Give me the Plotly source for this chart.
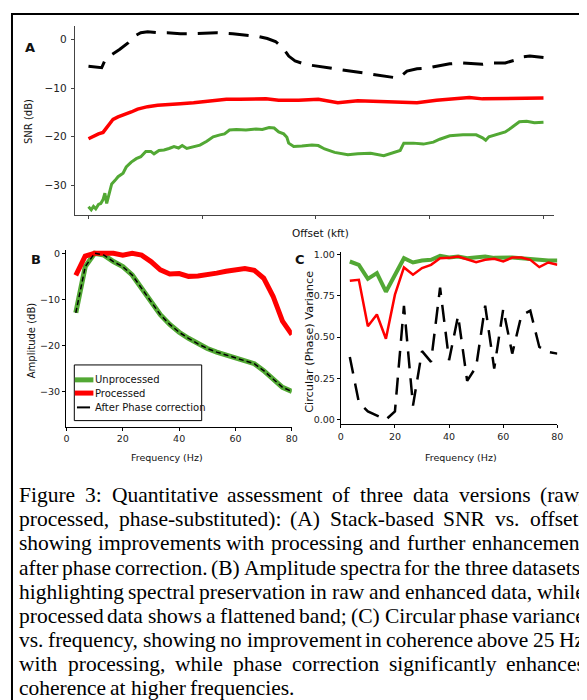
import plotly.graph_objects as go

# The page body has an 8px margin, so the figure is 579x692 and page pixel (x, y)
# maps to figure pixel (x - 8, y - 8).
PAGE_OFF = 8
W, H = 579, 692


def px(x):
    return (x - PAGE_OFF) / W


def py(y):
    return 1 - (y - PAGE_OFF) / H


# ---------------- Panel A: SNR vs offset ----------------
snr_proc_x = [0, 1.1, 2.2, 3.2, 4.3, 5.4, 6.5, 7.9, 9.4, 10.8, 13, 15.2, 17.3, 20.2, 23.1, 25.3,
              27.4, 30.3, 33.2, 36.1, 39, 41.8, 44, 46.2, 50.5, 54.8, 59.2, 63.5, 67.8, 72.2,
              76.5, 80.8, 83.7, 86.6, 91.6, 95, 100]
snr_proc = [-20.4, -19.8, -19.4, -19.1, -17.7, -16.4, -15.9, -15.5, -14.9, -14.3, -13.8, -13.5,
            -13.3, -13.2, -13.0, -12.8, -12.5, -12.3, -12.3, -12.3, -12.2, -12.5, -12.5, -12.5,
            -12.3, -13.0, -12.6, -12.7, -12.8, -13.0, -12.5, -12.1, -11.9, -12.2, -12.1, -12.2, -12.0]

snr_raw_x = [0, 0.6, 1.1, 1.6, 2.2, 2.7, 3.2, 3.6, 4.0, 4.5, 5.1, 5.8, 6.5, 7.6, 8.3, 9.4, 10.5,
             11.5, 12.6, 13.7, 14.4, 15.5, 16.6, 17.7, 18.8, 19.8, 20.6, 21.6, 23.1, 24.5, 26.0,
             27.4, 28.9, 29.9, 31.0, 32.5, 34.6, 36.8, 38.2, 39.7, 40.8, 41.8, 42.9, 43.6, 44.0,
             45.1, 46.9, 49.1, 50.5, 51.9, 54.1, 57.0, 59.2, 62.0, 64.9, 67.1, 68.5, 69.3, 71.4,
             73.6, 75.8, 77.2, 79.4, 82.3, 85.2, 86.6, 87.3, 88.0, 90.2, 91.6, 93.0, 94.7, 96.3,
             98.0, 100]
snr_raw = [-34.4, -35.0, -34.3, -34.8, -33.9, -33.7, -32.9, -31.6, -33.7, -31.7, -29.7, -29.0,
           -28.2, -27.5, -26.2, -25.2, -24.5, -24.1, -23.0, -23.0, -23.5, -22.8, -22.7, -22.4,
           -22.0, -22.3, -21.8, -22.4, -22.0, -21.7, -20.9, -20.0, -19.6, -19.4, -18.6, -18.5,
           -18.6, -18.4, -18.5, -18.1, -18.2, -19.0, -19.4, -20.1, -21.3, -22.0, -21.9, -21.7,
           -21.8, -22.5, -23.2, -23.7, -23.5, -23.4, -23.9, -23.2, -22.8, -21.3, -21.3, -21.5,
           -21.1, -20.5, -19.8, -19.6, -19.6, -20.2, -20.7, -20.0, -19.4, -19.0, -18.1, -16.9,
           -16.8, -17.1, -17.0]

snr_phase_x = [0, 1.4, 2.9, 3.6, 5.1, 6.9, 8.7, 10.1, 11.5, 13, 15.2, 17.3, 20.2, 23.1, 26, 28.1,
               31.7, 34.6, 37.5, 39.3, 41.1, 42.2, 43.1, 44.0, 45.4, 47.6, 50.5, 53.3, 57.7, 61.3,
               64.3, 67.1, 68.5, 70, 72.2, 74.3, 76.5, 79.4, 82.3, 85.2, 86.6, 88.7, 91.6, 93.5,
               95, 97, 100]
snr_phase = [-5.5, -5.7, -5.8, -4.3, -3.1, -2.0, -0.7, 0.7, 1.4, 1.6, 1.4, 1.4, 1.2, 1.2, 1.3, 1.4,
             1.2, 0.9, 0.6, 0.2, -0.4, -1.3, -2.2, -3.4, -4.4, -5.1, -5.5, -5.9, -6.5, -7.0,
             -7.5, -7.8, -7.7, -6.5, -6.0, -5.9, -5.5, -5.0, -4.8, -4.9, -5.1, -4.8, -4.8, -4.3,
             -3.6, -3.4, -3.7]

offset_ticks = [0, 25, 50, 75, 100]
snr_ticks = [0, -10, -20, -30]

# ---------------- Panel B: amplitude spectra ----------------
freq = [3.33, 6.67, 10, 13.33, 16.67, 20, 23.33, 26.67, 30, 33.33, 36.67, 40, 43.33, 46.67,
        50, 53.33, 56.67, 60, 63.33, 66.67, 70, 73.33, 76.67, 80]
amp_raw = [-12.9, -2.9, 0.0, -0.4, -1.8, -2.9, -4.7, -7.5, -10.4, -13.3, -15.4, -17.1, -18.4,
           -19.6, -20.6, -21.4, -22.0, -22.6, -23.2, -23.9, -25.4, -27.2, -29.0, -29.9]
amp_proc = [-4.8, -0.6, 0.0, 0.0, 0.0, -0.4, 0.0, -0.4, -1.8, -3.6, -4.5, -4.4, -5.0, -4.9,
            -4.7, -4.3, -3.9, -3.6, -3.3, -3.7, -5.4, -9.3, -14.7, -17.6]
amp_phase = [-12.9, -2.9, 0.0, -0.4, -1.8, -2.9, -4.7, -7.5, -10.4, -13.3, -15.4, -17.1, -18.4,
             -19.6, -20.6, -21.4, -22.0, -22.6, -23.2, -23.9, -25.4, -27.2, -29.0, -29.9]
freq_ticks = [0, 20, 40, 60, 80]
amp_ticks = [0, -10, -20, -30]

# ---------------- Panel C: circular phase variance ----------------
var_raw = [0.958, 0.938, 0.853, 0.888, 0.775, 0.871, 0.978, 0.952, 0.964, 0.968, 0.992, 0.982,
           0.988, 0.978, 0.982, 0.988, 0.980, 0.982, 0.982, 0.978, 0.976, 0.968, 0.964, 0.964]
var_proc = [0.841, 0.847, 0.566, 0.637, 0.490, 0.757, 0.922, 0.878, 0.918, 0.938, 0.978, 0.980,
            0.988, 0.972, 0.954, 0.968, 0.974, 0.958, 0.982, 0.982, 0.968, 0.924, 0.952, 0.938]
var_phase = [0.38, 0.105, 0.05, 0.025, 0.0, 0.05, 0.69, 0.085, 0.415, 0.35, 0.80, 0.36, 0.63,
             0.235, 0.32, 0.69, 0.31, 0.67, 0.40, 0.63, 0.66, 0.44, 0.41, 0.40]
var_ticks = [0, 0.25, 0.5, 0.75, 1.0]

series_names = ["Unprocessed", "Processed", "After Phase correction"]

caption_lines = [
    "Figure 3: Quantitative assessment of three data versions (raw,",
    "processed, phase-substituted): (A) Stack-based SNR vs. offset,",
    "showing improvements with processing and further enhancement",
    "after phase correction. (B) Amplitude spectra for the three datasets,",
    "highlighting spectral preservation in raw and enhanced data, while",
    "processed data shows a flattened band; (C) Circular phase variance",
    "vs. frequency, showing no improvement in coherence above 25 Hz",
    "with processing, while phase correction significantly enhances",
    "coherence at higher frequencies.",
]

GREEN = "#52a834"
RED = "#ff0000"
BLACK = "#000000"
SANS = "DejaVu Sans"
SERIF = "Liberation Serif"

fig = go.Figure()

# Panel A
fig.add_trace(go.Scatter(x=snr_raw_x, y=snr_raw, mode="lines", name=series_names[0],
                         line=dict(color=GREEN, width=3), xaxis="x", yaxis="y", showlegend=False))
fig.add_trace(go.Scatter(x=snr_proc_x, y=snr_proc, mode="lines", name=series_names[1],
                         line=dict(color=RED, width=3.5), xaxis="x", yaxis="y", showlegend=False))
fig.add_trace(go.Scatter(x=snr_phase_x, y=snr_phase, mode="lines", name=series_names[2],
                         line=dict(color=BLACK, width=3, dash="20px,11px"), xaxis="x", yaxis="y",
                         showlegend=False))

# Panel B
fig.add_trace(go.Scatter(x=freq, y=amp_raw, mode="lines", name=series_names[0],
                         line=dict(color=GREEN, width=5), xaxis="x2", yaxis="y2", showlegend=False))
fig.add_trace(go.Scatter(x=freq, y=amp_proc, mode="lines", name=series_names[1],
                         line=dict(color=RED, width=5), xaxis="x2", yaxis="y2", showlegend=False))
fig.add_trace(go.Scatter(x=freq, y=amp_phase, mode="lines", name=series_names[2],
                         line=dict(color=BLACK, width=1.5, dash="5px,3px"), xaxis="x2", yaxis="y2",
                         showlegend=False))

# Panel C
fig.add_trace(go.Scatter(x=freq, y=var_raw, mode="lines", name=series_names[0],
                         line=dict(color=GREEN, width=4), xaxis="x3", yaxis="y3", showlegend=False))
fig.add_trace(go.Scatter(x=freq, y=var_proc, mode="lines", name=series_names[1],
                         line=dict(color=RED, width=2.5), xaxis="x3", yaxis="y3", showlegend=False))
fig.add_trace(go.Scatter(x=freq, y=var_phase, mode="lines", name=series_names[2],
                         line=dict(color=BLACK, width=2.5, dash="17px,10px"), xaxis="x3", yaxis="y3",
                         showlegend=False))

axis_common = dict(showgrid=False, zeroline=False, showline=True, ticks="outside",
                   mirror=False)

fig.update_layout(
    width=W, height=H,
    margin=dict(l=0, r=0, t=0, b=0),
    paper_bgcolor="white", plot_bgcolor="white",
    showlegend=False,
    xaxis=dict(domain=[px(73.3), px(560)], range=[-2.9, 102.4], tickvals=offset_ticks,
               showticklabels=False, ticklen=3, tickcolor="#444", linecolor="#444",
               anchor="y", **axis_common),
    yaxis=dict(domain=[py(213.3), py(23.3)], range=[-36.1, 2.74], tickvals=snr_ticks,
               ticklen=3.5, tickcolor="#444", linecolor="#444", anchor="x",
               ticklabelstandoff=2,
               tickfont=dict(family=SANS, size=10.5, color="#222"), **axis_common),
    xaxis2=dict(domain=[px(64.3), px(293.3)], range=[0, 80], tickvals=freq_ticks,
                ticklen=3.5, tickcolor="black", linecolor="black", anchor="y2",
                tickfont=dict(family=SANS, size=9.5, color="#222"), **axis_common),
    yaxis2=dict(domain=[py(426), py(248.4)], range=[-37.5, 0.7], tickvals=amp_ticks,
                ticklen=3.5, tickcolor="black", linecolor="black", anchor="x2",
                tickfont=dict(family=SANS, size=9.5, color="#222"), **axis_common),
    xaxis3=dict(domain=[px(343), px(563)], range=[0, 80], tickvals=freq_ticks,
                ticklen=3.5, tickcolor="black", linecolor="black", anchor="y3",
                tickfont=dict(family=SANS, size=9.5, color="#222"), **axis_common),
    yaxis3=dict(domain=[py(423), py(250)], range=[-0.024, 1.018], tickvals=var_ticks,
                tickformat=".2f", ticklen=3, tickcolor="black", linecolor="black",
                anchor="x3", tickfont=dict(family=SANS, size=9.5, color="#222"), **axis_common),
)

ann = []


def label(text, x, y, size, angle=0, bold=False, family=SANS, xanchor="center"):
    t = "<b>%s</b>" % text if bold else text
    ann.append(dict(text=t, x=px(x), y=py(y), xref="paper", yref="paper", showarrow=False,
                    xanchor=xanchor, yanchor="middle", textangle=angle, borderpad=0,
                    font=dict(family=family, size=size, color="#111")))


# panel letters
label("A", 27.5, 45, 13, bold=True)
label("B", 33.5, 258, 13, bold=True)
label("C", 301.7, 258, 13, bold=True)

# axis titles
label("SNR (dB)", 26, 119, 10, angle=-90)
label("Offset (kft)", 292.7, 231, 10.5, xanchor="left")
label("Amplitude (dB)", 28.5, 339, 10, angle=-90)
label("Frequency (Hz)", 166.3, 457, 9.5)
label("Frequency (Hz)", 465.3, 457, 9.5)
label("Circular (Phase) Variance", 311, 340.5, 11.3, angle=-90)

# legend for panel B (custom box)
shapes = []
shapes.append(dict(type="rect", xref="paper", yref="paper", x0=px(72.3), x1=px(201.7),
                   y0=py(420), y1=py(364), line=dict(color="black", width=1),
                   fillcolor="white", layer="above"))
leg_rows = [(379, GREEN, 5, 72.8, 91.7), (392.3, RED, 5, 72.8, 91.7), (406.7, BLACK, 2, 75, 88.3)]
for (yy, col, lw, xa, xb), name in zip(leg_rows, series_names):
    shapes.append(dict(type="line", xref="paper", yref="paper", x0=px(xa), x1=px(xb),
                       y0=py(yy), y1=py(yy), line=dict(color=col, width=lw), layer="above"))
    ann.append(dict(text=name, x=px(92.3), y=py(yy), xref="paper", yref="paper",
                    showarrow=False, xanchor="left", yanchor="middle", borderpad=0,
                    font=dict(family=SANS, size=10, color="#111")))

# outer frame
shapes.append(dict(type="rect", xref="paper", yref="paper", x0=px(9), x1=px(640),
                   y0=py(760), y1=py(11), line=dict(color="black", width=2), layer="above"))

# caption (justified by placing words)
TNR = {' ': 250, '.': 250, ',': 250, ':': 278, ';': 278, '(': 333, ')': 333, '-': 333}
for c, w in zip("abcdefghijklmnopqrstuvwxyz",
                [444, 500, 444, 500, 444, 333, 500, 500, 278, 278, 500, 278, 778, 500, 500, 500,
                 500, 333, 389, 278, 500, 500, 722, 500, 500, 444]):
    TNR[c] = w
for c, w in zip("ABCDEFGHIJKLMNOPQRSTUVWXYZ",
                [722, 667, 667, 722, 611, 556, 722, 722, 333, 389, 722, 611, 889, 722, 722, 556,
                 722, 667, 556, 611, 722, 722, 944, 722, 722, 611]):
    TNR[c] = w
for c in "0123456789":
    TNR[c] = 500

CAP_SIZE = 21.5
CAP_X0 = 15.0
CAP_R = 589.0
CAP_Y0 = 495.0
CAP_DY = 24.25


def tw(s):
    return sum(TNR.get(ch, 500) for ch in s) / 1000.0 * CAP_SIZE


for i, line in enumerate(caption_lines):
    words = line.split(" ")
    widths = [tw(w) for w in words]
    if i < len(caption_lines) - 1 and len(words) > 1:
        gap = (CAP_R - CAP_X0 - sum(widths)) / (len(words) - 1)
    else:
        gap = tw(" ")
    x = CAP_X0
    yy = CAP_Y0 + i * CAP_DY
    for w, wd in zip(words, widths):
        ann.append(dict(text=w, x=px(x), y=py(yy), xref="paper", yref="paper",
                        showarrow=False, xanchor="left", yanchor="middle", borderpad=0,
                        font=dict(family=SERIF, size=CAP_SIZE, color="black")))
        x += wd + gap

fig.update_layout(annotations=ann, shapes=shapes)

fig.write_html("out.html")
